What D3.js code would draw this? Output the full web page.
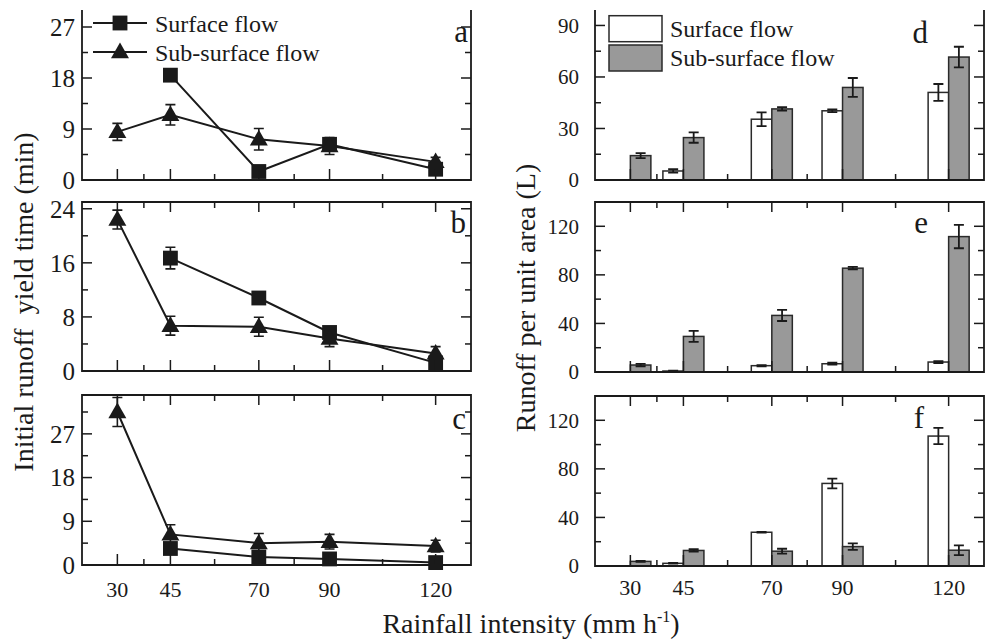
<!DOCTYPE html>
<html><head><meta charset="utf-8">
<script src="https://cdn.jsdelivr.net/npm/d3@7"></script>
<style>body{margin:0;background:#fff}</style>
</head><body><svg id="c" width="988" height="642"></svg>
<script>
// ---- data ----
const rain = [30, 45, 70, 90, 120];
const minorX = [37.5, 57.5, 80, 105];
// initial runoff yield time (min)
const surfA = [null, 18.5, 1.5, 6.3, 1.9], surfAErr = [0, 0.5, 0.4, 0.6, 0.4];
const subA  = [8.5, 11.5, 7.2, 6.0, 3.2],  subAErr  = [1.5, 1.8, 1.9, 1.5, 0.8];
const surfB = [null, 16.7, 10.8, 5.7, 1.2], surfBErr = [0, 1.6, 0.4, 0.8, 0.4];
const subB  = [22.4, 6.7, 6.55, 4.8, 2.6],  subBErr  = [1.4, 1.4, 1.4, 1.2, 1.0];
const surfC = [null, 3.4, 1.65, 1.25, 0.5], surfCErr = [0, 0.5, 0.3, 0.3, 0.2];
const subC  = [31.5, 6.3, 4.5, 4.8, 3.9],   subCErr  = [3, 2, 2, 1.5, 1.2];
// runoff per unit area (L)
const surfD = [0, 5.25, 35.4, 40.3, 51],   surfDErr = [0, 1, 4, 0.8, 4.9];
const subD  = [14.2, 24.7, 41.4, 53.9, 71.6], subDErr = [1.5, 3, 1, 5.5, 6];
const surfE = [0, 0.8, 5.2, 6.8, 8.2],     surfEErr = [0, 0.3, 0.5, 0.8, 0.8];
const subE  = [5.75, 29.3, 46.6, 85.5, 111.5], subEErr = [1, 4.5, 4.6, 1, 9.6];
const surfF = [0, 2.2, 27.8, 68, 107],     surfFErr = [0, 0.3, 0.3, 4, 6.7];
const subF  = [3.8, 12.8, 12.2, 16, 13],   subFErr  = [0.3, 1, 2, 2.7, 4];
// tick labels
const ticksA = [0, 9, 18, 27], minorA = [4.5, 13.5, 22.5];
const ticksB = [0, 8, 16, 24], minorB = [4, 12, 20];
const ticksC = [0, 9, 18, 27], minorC = [4.5, 13.5, 22.5, 31.5];
const ticksD = [0, 30, 60, 90], minorD = [15, 45, 75];
const ticksE = [0, 40, 80, 120], minorE = [20, 60, 100];
const seriesNames = ["Surface flow", "Sub-surface flow"];

// ---- drawing ----
const FONT = "Liberation Serif";
const svg = d3.select("#c");
svg.append("rect").attr("width", 988).attr("height", 642).attr("fill", "#fff");
const INK = "#1a1a1a";
function txt(parent) { return parent.append("text").style("font-family", FONT).attr("fill", INK); }

const leftX = d3.scaleLinear().domain([20, 130]).range([82, 471]);
const rightX = d3.scaleLinear().domain([20, 130]).range([595, 984]);

function frame(x, y, opts) {
  const g = svg.append("g");
  const [x0, x1] = x.range(), [y0, y1] = y.range();
  const tk = (scale, vals, len, side) => {
    vals.forEach(v => {
      const p = scale(v);
      if (side === "left") g.append("line").attr("x1", x0).attr("x2", x0 + len).attr("y1", p).attr("y2", p);
      if (side === "right") g.append("line").attr("x1", x1).attr("x2", x1 - len).attr("y1", p).attr("y2", p);
      if (side === "bottom") g.append("line").attr("x1", p).attr("x2", p).attr("y1", y0).attr("y2", y0 - len);
      if (side === "top") g.append("line").attr("x1", p).attr("x2", p).attr("y1", y1).attr("y2", y1 + len);
    });
  };
  tk(y, opts.major, 10, "left"); tk(y, opts.minor, 6, "left");
  tk(y, opts.major, 10, "right"); tk(y, opts.minor, 6, "right");
  tk(x, rain, 11, "bottom"); tk(x, minorX, 6, "bottom");
  if (opts.top) { tk(x, rain, 10, "top"); tk(x, minorX, 6, "top"); }
  g.selectAll("line").attr("stroke", INK).attr("stroke-width", 1.5);
  const path = opts.top
    ? `M${x0},${y1}H${x1}V${y0}H${x0}Z`
    : `M${x0},${y1}V${y0}H${x1}V${y1}`;
  g.append("path").attr("d", path).attr("fill", "none").attr("stroke", INK).attr("stroke-width", 1.8);
  opts.major.forEach(d => {
    txt(g).attr("x", x0 - opts.labelGap).attr("y", y(d)).attr("dy", "0.35em")
      .attr("text-anchor", "end").attr("font-size", opts.yFont).text(d);
  });
  if (opts.xLabels) {
    rain.forEach(d => {
      txt(g).attr("x", x(d)).attr("y", opts.xLabelY)
        .attr("text-anchor", "middle").attr("font-size", 22).text(d);
    });
  }
  txt(svg).attr("x", opts.letter[1]).attr("y", opts.letter[2]).attr("text-anchor", "end")
    .attr("font-size", 31).text(opts.letter[0]);
}

const trianglePath = d3.symbol().type(d3.symbolTriangle).size(140)();
const squarePath = d3.symbol().type(d3.symbolSquare).size(220)();

function linePanel(y, surf, surfErr, sub, subErr) {
  const g = svg.append("g");
  const ptsS = rain.map((r, i) => ({ r, v: surf[i], e: surfErr[i] })).filter(d => d.v !== null);
  const ptsT = rain.map((r, i) => ({ r, v: sub[i], e: subErr[i] })).filter(d => d.v !== null);
  const line = d3.line().x(d => leftX(d.r)).y(d => y(d.v));
  [ptsS, ptsT].forEach(pts => {
    pts.forEach(d => {
      const cx = leftX(d.r);
      if (d.e > 0) {
        g.append("path").attr("d", `M${cx},${y(d.v - d.e)}V${y(d.v + d.e)}M${cx - 5},${y(d.v - d.e)}h10M${cx - 5},${y(d.v + d.e)}h10`)
          .attr("stroke", INK).attr("stroke-width", 1.6).attr("fill", "none");
      }
    });
  });
  [ptsS, ptsT].forEach(pts => g.append("path").attr("d", line(pts)).attr("fill", "none").attr("stroke", INK).attr("stroke-width", 2));
  g.selectAll("path.s").data(ptsS).join("path").attr("d", squarePath)
    .attr("transform", d => `translate(${leftX(d.r)},${y(d.v)})`).attr("fill", INK);
  g.selectAll("path.t").data(ptsT).join("path").attr("d", trianglePath)
    .attr("transform", d => `translate(${leftX(d.r)},${y(d.v) + 1})`).attr("fill", INK);
}

const barW = rightX(25.8) - rightX(20);
function barPanel(y, surf, surfErr, sub, subErr) {
  const g = svg.append("g");
  const y0 = y(0);
  const sets = [
    { vals: surf, errs: surfErr, fill: "#ffffff", off: -barW },
    { vals: sub, errs: subErr, fill: "#999999", off: 0 }
  ];
  sets.forEach(s => {
    g.selectAll(null).data(rain.map((r, i) => ({ r, v: s.vals[i], e: s.errs[i] }))).join("rect")
      .attr("x", d => rightX(d.r) + s.off).attr("width", barW)
      .attr("y", d => y(d.v)).attr("height", d => y0 - y(d.v))
      .attr("fill", s.fill).attr("stroke", "#2a2a2a").attr("stroke-width", 1.5);
  });
  sets.forEach(s => {
    rain.forEach((r, i) => {
      const v = s.vals[i], e = s.errs[i];
      if (v <= 0) return;
      const cx = rightX(r) + s.off + barW / 2;
      const lo = y(v - e), hi = y(v + e);
      g.append("path").attr("d", `M${cx},${lo}V${hi}M${cx - 5},${lo}h10M${cx - 5},${hi}h10`)
        .attr("stroke", INK).attr("stroke-width", 1.8).attr("fill", "none");
    });
  });
}

const yA = d3.scaleLinear().domain([0, 30]).range([180, 10]);
const yB = d3.scaleLinear().domain([0, 25]).range([371, 202]);
const yC = d3.scaleLinear().domain([0, 35]).range([565, 395]);
linePanel(yA, surfA, surfAErr, subA, subAErr);
linePanel(yB, surfB, surfBErr, subB, subBErr);
linePanel(yC, surfC, surfCErr, subC, subCErr);
frame(leftX, yA, { major: ticksA, minor: minorA, top: false, yFont: 25, labelGap: 7, letter: ["a", 468, 42] });
frame(leftX, yB, { major: ticksB, minor: minorB, top: true, yFont: 25, labelGap: 7, letter: ["b", 466, 233] });
frame(leftX, yC, { major: ticksC, minor: minorC, top: true, yFont: 25, labelGap: 7, letter: ["c", 466, 429], xLabels: true, xLabelY: 597 });

const yD = d3.scaleLinear().domain([0, 99]).range([180, 10]);
const yE = d3.scaleLinear().domain([0, 140]).range([372, 202]);
const yF = d3.scaleLinear().domain([0, 140]).range([566, 396]);
barPanel(yD, surfD, surfDErr, subD, subDErr);
barPanel(yE, surfE, surfEErr, subE, subEErr);
barPanel(yF, surfF, surfFErr, subF, subFErr);
frame(rightX, yD, { major: ticksD, minor: minorD, top: false, yFont: 21, labelGap: 16, letter: ["d", 928, 43] });
frame(rightX, yE, { major: ticksE, minor: minorE, top: true, yFont: 21, labelGap: 16, letter: ["e", 928, 233] });
frame(rightX, yF, { major: ticksE, minor: minorE, top: true, yFont: 21, labelGap: 16, letter: ["f", 924, 428], xLabels: true, xLabelY: 595 });

const lg = svg.append("g");
[[23, squarePath, 0], [52, trianglePath, 1]].forEach(([ly, sym, k]) => {
  lg.append("line").attr("x1", 93).attr("x2", 147).attr("y1", ly).attr("y2", ly).attr("stroke", INK).attr("stroke-width", 2);
  lg.append("path").attr("d", sym).attr("transform", `translate(120,${ly + (k ? 1 : 0)})`).attr("fill", INK);
  txt(lg).attr("x", 155).attr("y", ly + 9).attr("font-size", 24).text(seriesNames[k]);
});
[[15.7, "#ffffff", 0], [45, "#999999", 1]].forEach(([ry, fill, k]) => {
  lg.append("rect").attr("x", 609).attr("y", ry).attr("width", 53).attr("height", 26)
    .attr("fill", fill).attr("stroke", "#2a2a2a").attr("stroke-width", 1.5);
  txt(lg).attr("x", 670).attr("y", ry + 21).attr("font-size", 24).text(seriesNames[k]);
});

txt(svg).attr("transform", "translate(33,302) rotate(-90)").attr("text-anchor", "middle")
  .attr("font-size", 28).style("white-space", "pre").text("Initial runoff  yield time (min)");
txt(svg).attr("transform", "translate(535,298) rotate(-90)").attr("text-anchor", "middle")
  .attr("font-size", 28).text("Runoff per unit area (L)");
const xt = txt(svg).attr("x", 531).attr("y", 633).attr("text-anchor", "middle").attr("font-size", 28);
xt.append("tspan").text("Rainfall intensity (mm h");
xt.append("tspan").attr("font-size", 16).attr("dy", -11).text("-1");
xt.append("tspan").attr("dy", 11).text(")");
</script></body></html>
